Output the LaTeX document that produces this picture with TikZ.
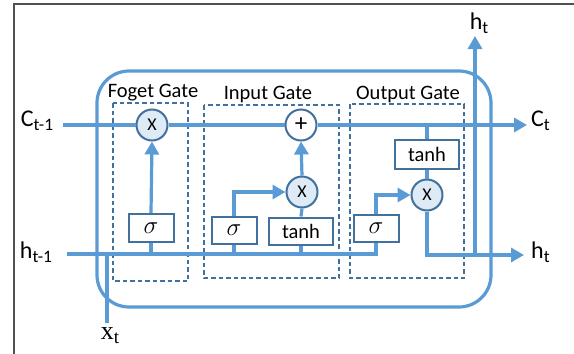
\documentclass[tikz,border=0pt]{standalone}
\usepackage{fontspec}
\setmainfont{Carlito}
\newfontfamily\serifx{Liberation Serif}
\usetikzlibrary{arrows.meta}
\definecolor{lblue}{HTML}{5B9BD5}
\definecolor{dblue}{HTML}{41719C}
\definecolor{cfill}{HTML}{DEEBF7}
\definecolor{frame}{HTML}{505050}
\newcommand{\iobig}[1]{{\fontsize{24}{24}\selectfont #1}}
\newcommand{\sbs}[1]{\raisebox{-4pt}{\fontsize{17.5}{17.5}\selectfont #1}}
\tikzset{
  wire/.style={draw=lblue, line width=3.2pt},
  arr/.style={wire, -{Triangle[length=13pt,width=14pt]}},
  opc/.style={circle, draw=dblue, line width=2pt, fill=cfill, minimum size=31pt, inner sep=0pt, font=\fontsize{18}{18}\selectfont},
  fnbox/.style={rectangle, draw=dblue, line width=2pt, fill=white, inner sep=0pt},
  gatebox/.style={draw=dblue, line width=1.8pt, dash pattern=on 4.5pt off 3pt},
  gatelbl/.style={font=\fontsize{20.5}{20.5}\selectfont, inner sep=0pt},
  iolbl/.style={inner sep=0pt},
}
\begin{document}
\begin{tikzpicture}[x=1pt,y=-1pt]
\useasboundingbox (0,0) rectangle (574,354);
\fill[white] (0,0) rectangle (574,354);
\draw[frame, line width=1.2pt] (14,354) -- (14,4) -- (574,4);

% cell
\draw[wire, rounded corners=32pt] (97,71) rectangle (491,307);

% gate boxes
\draw[gatebox] (113,103) rectangle (188,281);
\draw[gatebox] (204,105) rectangle (339,278);
\draw[gatebox] (350,104) rectangle (464,278);
\node[gatelbl] (lf) at (153,93) {Foget Gate};
\node[gatelbl] (li) at (268,94) {Input Gate};
\node[gatelbl] (lo) at (408,94) {Output Gate};

% operators
\node[opc] (fc) at (152,125) {X};
\node[opc, fill=white, font=\fontsize{25}{25}\selectfont] (plus) at (301,125) {+};
\node[opc] (ix) at (302,192) {X};
\node[opc] (ox) at (427,195) {X};

% function boxes
\node[fnbox, minimum width=45pt, minimum height=28pt] (fs) at (151,228) {\fontsize{25}{25}\selectfont$\sigma$};
\node[fnbox, minimum width=45pt, minimum height=27pt] (is) at (234,230) {\fontsize{25}{25}\selectfont$\sigma$};
\node[fnbox, minimum width=64pt, minimum height=27pt, font=\fontsize{20.5}{20.5}\selectfont] (it) at (301,231) {tanh};
\node[fnbox, minimum width=45pt, minimum height=27pt] (os) at (376,228) {\fontsize{25}{25}\selectfont$\sigma$};
\node[fnbox, minimum width=64pt, minimum height=29pt, font=\fontsize{20.5}{20.5}\selectfont] (ot) at (427,154) {tanh};

% io labels
\node[iolbl] (cl) at (37,121) {\iobig{C}\sbs{t-1}};
\node[iolbl] (hl) at (36,252) {\iobig{h}\sbs{t-1}};
\node[iolbl, anchor=west] (cr) at (531,121) {\iobig{C}\sbs{t}};
\node[iolbl, anchor=west] (hr) at (531,252) {\iobig{h}\sbs{t}};
\node[iolbl] (ht) at (479,23) {\iobig{h}\sbs{t}};
\node[iolbl] (xl) at (110,336) {\serifx\fontsize{26}{26}\selectfont x\raisebox{-4pt}{\fontsize{19}{19}\selectfont t}};

\coordinate (cin) at (63,125);
\coordinate (cend) at (527,125);
\coordinate (hin) at (67,254);
\coordinate (hend) at (524,255);
\coordinate (hj) at (475,255);
\coordinate (htop) at (475,36);
\coordinate (xtop) at (107,254);
\coordinate (xbot) at (107,323);

% cell state
\draw[wire] (cin) -- (fc.west);
\draw[wire] (fc.east) -- (plus.west);
\draw[arr] (plus.east) -- (cend);
% hidden input
\draw[wire] (hin) -| (os.south);
\draw[wire] (xtop) -- (xbot);
\draw[wire] (fs.south) -- (fs.south |- hin);
\draw[wire] (is.south) -- (is.south |- hin);
\draw[wire] (it.south) -- (it.south |- hin);
% forget
\draw[arr] (fs.north) -- (fc.south);
% input
\draw[arr] (is.north) |- (ix.west);
\draw[wire] (it.north) -- (ix.south);
\draw[arr] (ix.north) -- (plus.south);
% output
\draw[wire] (ot.north) -- (ot.north |- cin);
\draw[wire] (ot.south) -- (ox.north);
\draw[arr] (os.north) |- (ox.west);
\draw[arr] (ox.south) |- (hend);
\draw[arr] (hj) -- (htop);
\end{tikzpicture}
\end{document}
